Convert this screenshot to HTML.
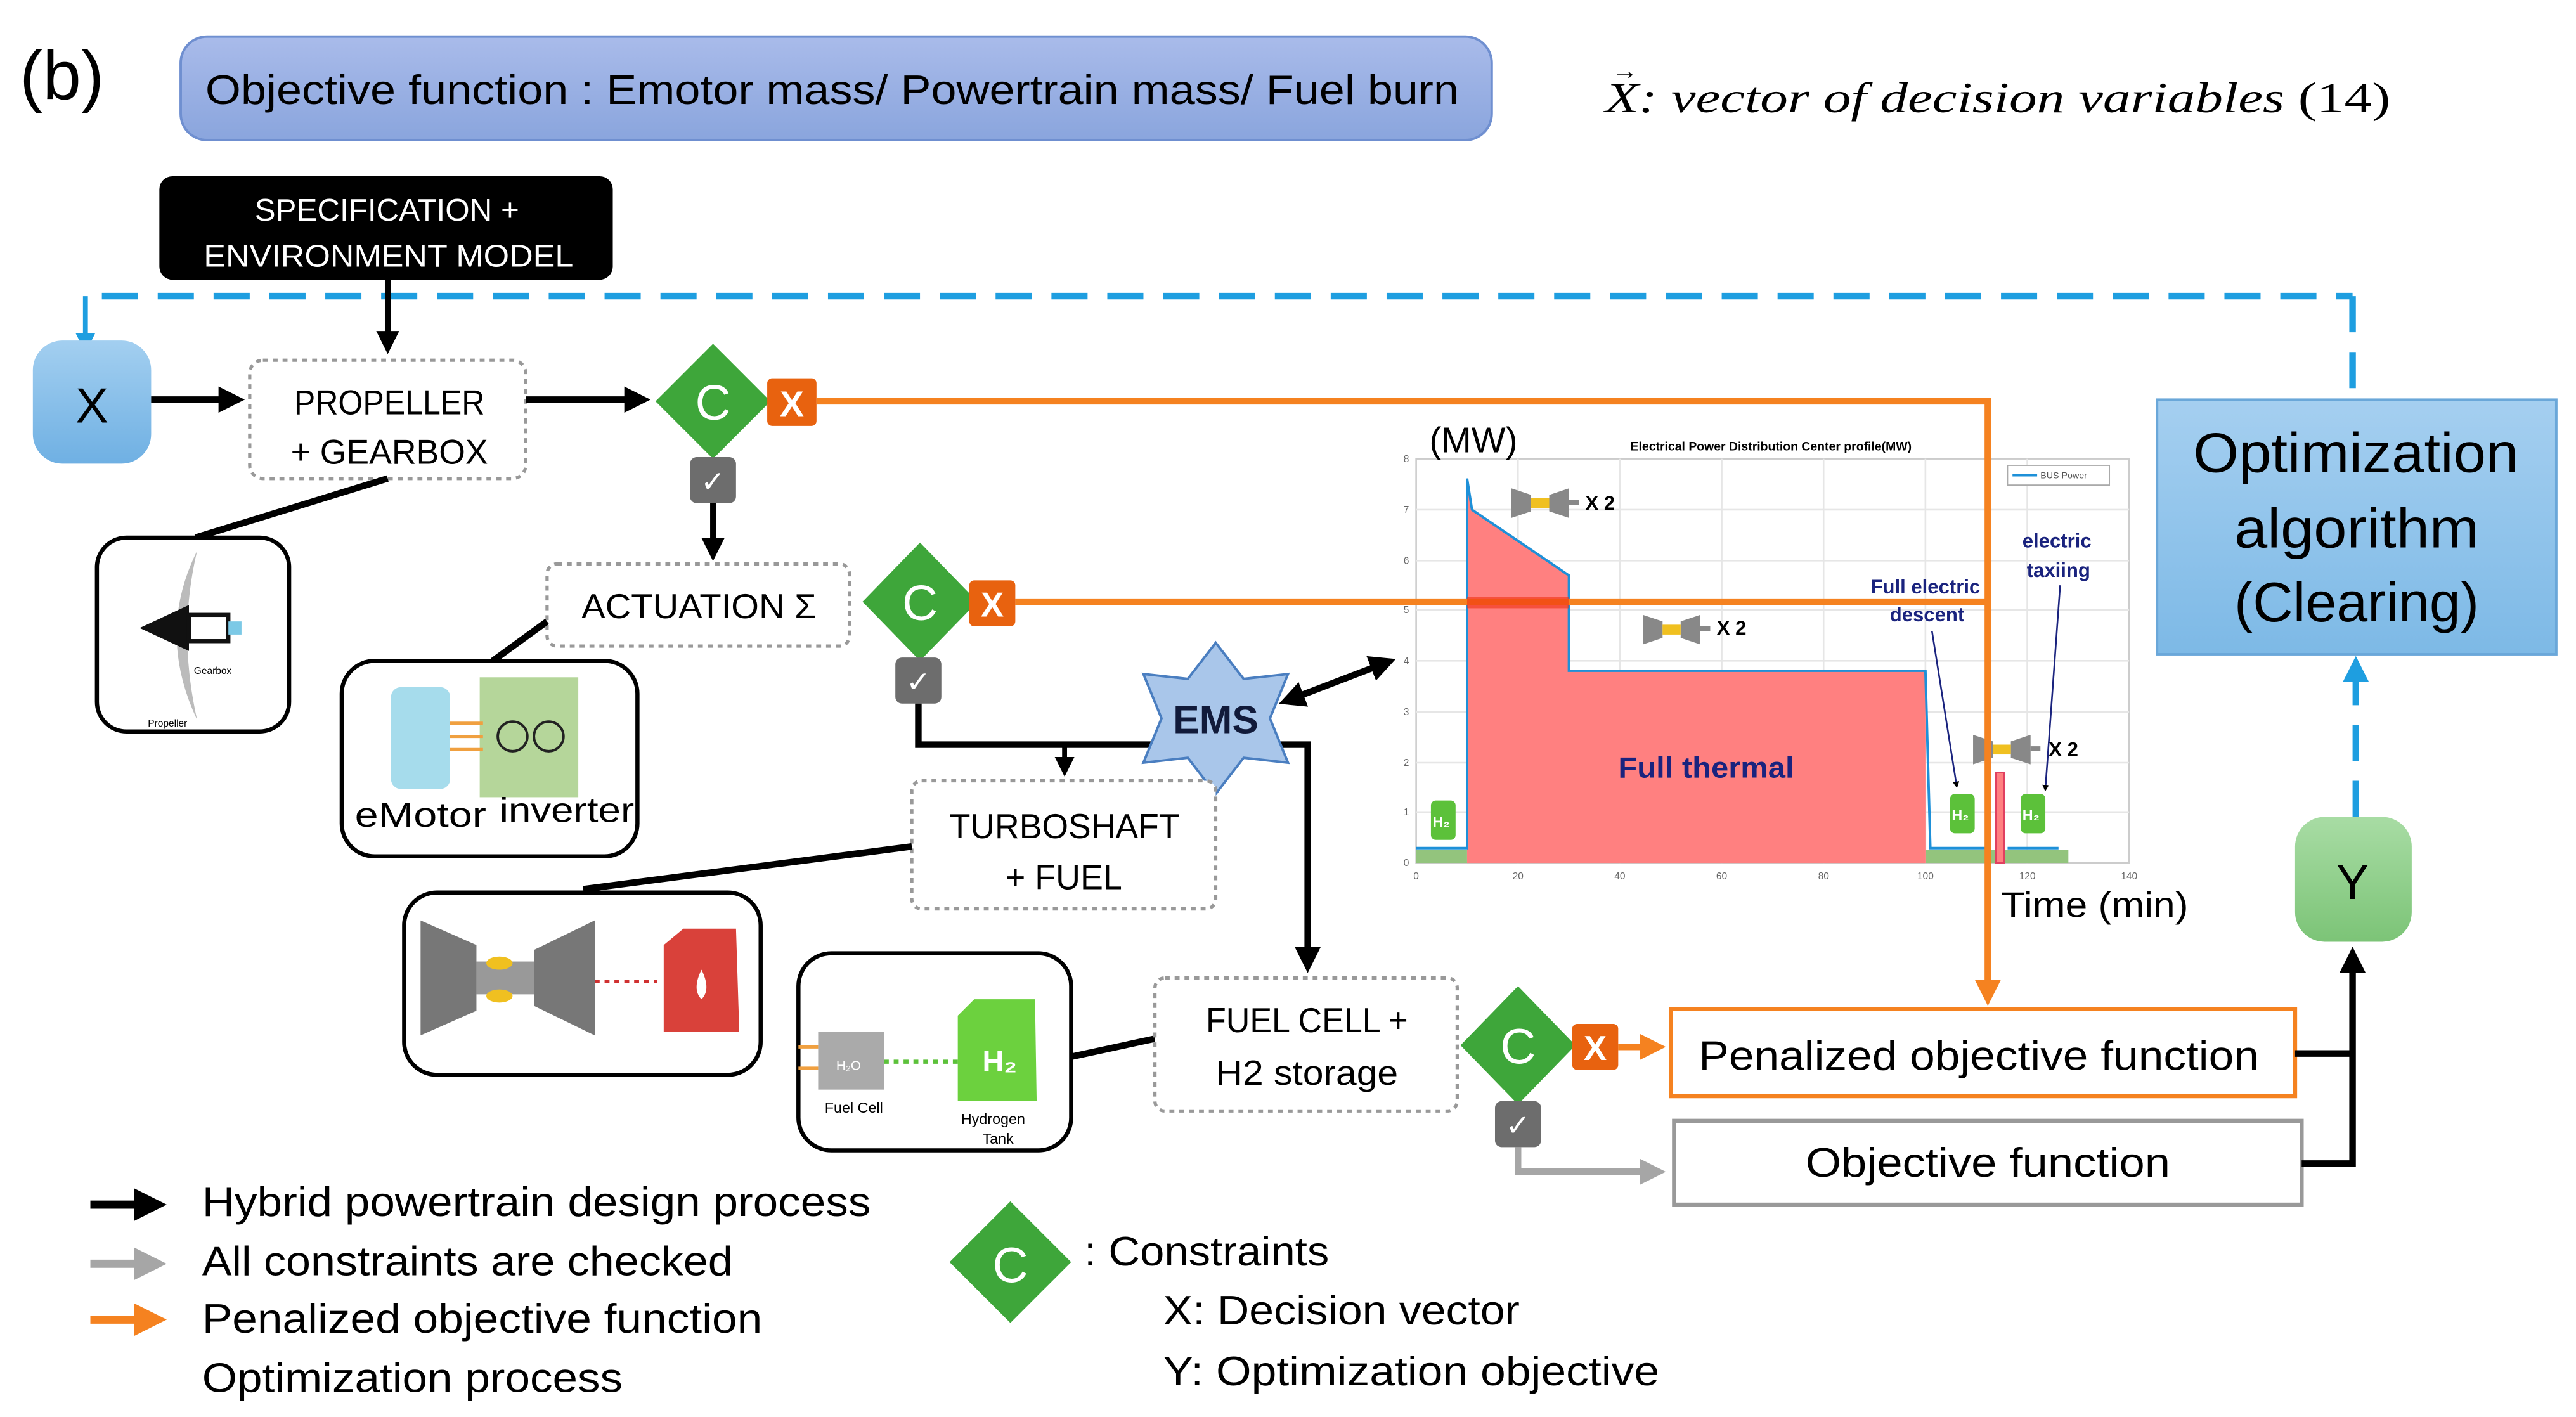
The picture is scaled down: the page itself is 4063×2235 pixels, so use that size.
<!DOCTYPE html>
<html><head><meta charset="utf-8"><style>html,body{margin:0;padding:0;background:#fff}svg{display:block}text{font-family:"Liberation Sans",sans-serif}</style></head>
<body>
<svg width="4063" height="2235" viewBox="0 0 1568 862" xmlns="http://www.w3.org/2000/svg">
<defs>
<marker id="ab" markerWidth="4" markerHeight="4" refX="2.5" refY="2" orient="auto"><path d="M0,0 L4,2 L0,4 z" fill="#000"/></marker>
<marker id="ao" markerWidth="4" markerHeight="4" refX="2.5" refY="2" orient="auto"><path d="M0,0 L4,2 L0,4 z" fill="#f58220"/></marker>
<marker id="ag" markerWidth="4" markerHeight="4" refX="2.5" refY="2" orient="auto"><path d="M0,0 L4,2 L0,4 z" fill="#a6a6a6"/></marker>
<marker id="abl" markerWidth="4" markerHeight="4" refX="2.5" refY="2" orient="auto"><path d="M0,0 L4,2 L0,4 z" fill="#1e9ee0"/></marker>
<marker id="abs" markerWidth="4" markerHeight="4" refX="2.5" refY="2" orient="auto-start-reverse"><path d="M0,0 L4,2 L0,4 z" fill="#000"/></marker>
<linearGradient id="gt" x1="0" y1="0" x2="0" y2="1"><stop offset="0" stop-color="#a9bbea"/><stop offset="1" stop-color="#8aa5dd"/></linearGradient>
<linearGradient id="gx" x1="0" y1="0" x2="0" y2="1"><stop offset="0" stop-color="#a3cff0"/><stop offset="1" stop-color="#6fb0e3"/></linearGradient>
<linearGradient id="gy" x1="0" y1="0" x2="0" y2="1"><stop offset="0" stop-color="#a8dca4"/><stop offset="1" stop-color="#7cc477"/></linearGradient>
<linearGradient id="go" x1="0" y1="0" x2="0" y2="1"><stop offset="0" stop-color="#a5cff0"/><stop offset="1" stop-color="#7db9e6"/></linearGradient>
</defs>

<text x="12" y="60" font-size="42">(b)</text>
<rect x="110" y="22" width="798" height="63" rx="16" fill="url(#gt)" stroke="#6f8fd0" stroke-width="1.5"/>
<text x="125" y="63" font-size="25" textLength="763" lengthAdjust="spacingAndGlyphs">Objective function :  Emotor mass/ Powertrain mass/ Fuel burn</text>
<text x="977" y="68" font-size="26" font-style="italic" style="font-family:'Liberation Serif',serif" textLength="478" lengthAdjust="spacingAndGlyphs">X: vector of decision variables <tspan font-style="normal">(14)</tspan></text>
<text x="981" y="48" font-size="16" style="font-family:'Liberation Serif',serif">→</text>

<!-- spec -->
<rect x="97" y="107" width="276" height="63" rx="8" fill="#000"/>
<text x="155" y="134" font-size="19" fill="#fff" textLength="161" lengthAdjust="spacingAndGlyphs">SPECIFICATION +</text>
<text x="124" y="162" font-size="19" fill="#fff" textLength="225" lengthAdjust="spacingAndGlyphs">ENVIRONMENT MODEL</text>

<!-- blue dashed loop -->
<line x1="62" y1="180" x2="1432" y2="180" stroke="#1e9ee0" stroke-width="4" stroke-dasharray="22 12"/>
<line x1="52" y1="180" x2="52" y2="210" stroke="#1e9ee0" stroke-width="3" marker-end="url(#abl)"/>
<line x1="1432" y1="180" x2="1432" y2="243" stroke="#1e9ee0" stroke-width="4" stroke-dasharray="22 12"/>
<line x1="1434" y1="497" x2="1434" y2="405" stroke="#1e9ee0" stroke-width="4" stroke-dasharray="22 12" marker-end="url(#abl)"/>

<!-- X -->
<rect x="20" y="207" width="72" height="75" rx="18" fill="url(#gx)"/>
<text x="56" y="257" font-size="30" text-anchor="middle">X</text>
<line x1="92" y1="243" x2="143" y2="243" stroke="#000" stroke-width="4" marker-end="url(#ab)"/>
<line x1="236" y1="170" x2="236" y2="210" stroke="#000" stroke-width="3.5" marker-end="url(#ab)"/>

<!-- propeller -->
<rect x="152" y="219" width="168" height="72" rx="8" fill="#fff" stroke="#999" stroke-width="2" stroke-dasharray="3 3"/>
<text x="179" y="252" font-size="21" textLength="116" lengthAdjust="spacingAndGlyphs">PROPELLER</text>
<text x="177" y="282" font-size="21" textLength="120" lengthAdjust="spacingAndGlyphs">+ GEARBOX</text>
<line x1="320" y1="243" x2="390" y2="243" stroke="#000" stroke-width="4" marker-end="url(#ab)"/>
<line x1="236" y1="291" x2="119" y2="327" stroke="#000" stroke-width="4"/>
<rect x="59" y="327" width="117" height="118" rx="18" fill="#fff" stroke="#000" stroke-width="2.5"/>
<path d="M120,335 Q95,385 120,438 Q108,385 120,335z" fill="#bbb"/>
<path d="M85,382 L115,368 L115,396z" fill="#111"/>
<rect x="115" y="374" width="24" height="16" fill="#fff" stroke="#111" stroke-width="2.5"/>
<rect x="139" y="378" width="8" height="8" fill="#7cc9e6"/>
<text x="118" y="410" font-size="6">Gearbox</text><text x="90" y="442" font-size="6">Propeller</text>

<!-- C1 -->
<path d="M434,209 L469,244 L434,279 L399,244z" fill="#3ea63a"/>
<text x="434" y="255" font-size="30" fill="#fff" text-anchor="middle">C</text>
<rect x="467" y="230" width="30" height="29" rx="3" fill="#e8620f"/>
<text x="482" y="253" font-size="22" font-weight="bold" fill="#fff" text-anchor="middle">X</text>
<rect x="420" y="278" width="28" height="28" rx="4" fill="#6d6d6d"/>
<text x="434" y="299" font-size="18" fill="#fff" text-anchor="middle">✓</text>
<line x1="434" y1="306" x2="434" y2="336" stroke="#000" stroke-width="3.5" marker-end="url(#ab)"/>

<!-- chart -->
<g>
<rect x="862" y="279" width="434" height="246" fill="#fff" stroke="#ccc"/>
<g stroke="#e6e6e6" stroke-width="1">
<line x1="924" y1="279" x2="924" y2="525"/><line x1="986" y1="279" x2="986" y2="525"/><line x1="1048" y1="279" x2="1048" y2="525"/><line x1="1110" y1="279" x2="1110" y2="525"/><line x1="1172" y1="279" x2="1172" y2="525"/><line x1="1234" y1="279" x2="1234" y2="525"/>
<line x1="862" y1="310" x2="1296" y2="310"/><line x1="862" y1="341" x2="1296" y2="341"/><line x1="862" y1="371" x2="1296" y2="371"/><line x1="862" y1="402" x2="1296" y2="402"/><line x1="862" y1="433" x2="1296" y2="433"/><line x1="862" y1="464" x2="1296" y2="464"/><line x1="862" y1="494" x2="1296" y2="494"/>
</g>
<rect x="862" y="517" width="31" height="8" fill="#93c47d"/>
<rect x="1172" y="517" width="87" height="8" fill="#93c47d"/>
<path d="M893,525 L893,291 L896,310 L955,350 L955,408 L1172,408 L1172,525z" fill="#ff8080"/>
<rect x="1215" y="470" width="5" height="55" fill="#ff8080" stroke="#e04060" stroke-width="1"/>
<path d="M862,516 L893,516 L893,291 L896,310 L955,350 L955,408 L1172,408 L1175,516 L1209,516 M1222,516 L1253,516" fill="none" stroke="#1e90d8" stroke-width="1.5"/>
<g font-size="6" fill="#666" text-anchor="middle">
<text x="862" y="535">0</text><text x="924" y="535">20</text><text x="986" y="535">40</text><text x="1048" y="535">60</text><text x="1110" y="535">80</text><text x="1172" y="535">100</text><text x="1234" y="535">120</text><text x="1296" y="535">140</text>
<text x="856" y="527">0</text><text x="856" y="496">1</text><text x="856" y="466">2</text><text x="856" y="435">3</text><text x="856" y="404">4</text><text x="856" y="373">5</text><text x="856" y="343">6</text><text x="856" y="312">7</text><text x="856" y="281">8</text>
</g>
<text x="870" y="275" font-size="22">(MW)</text>
<text x="1078" y="274" font-size="7.5" font-weight="bold" text-anchor="middle">Electrical Power Distribution Center profile(MW)</text>
<rect x="1222" y="283" width="62" height="12" fill="#fff" stroke="#aaa" stroke-width="0.7"/>
<line x1="1225" y1="289" x2="1240" y2="289" stroke="#1e90d8" stroke-width="1.5"/>
<text x="1242" y="291" font-size="5.5" fill="#555">BUS Power</text>
<text x="985" y="473" font-size="18" font-weight="bold" fill="#1a237e" textLength="107" lengthAdjust="spacingAndGlyphs">Full thermal</text>
<text x="1172" y="361" font-size="12" font-weight="bold" fill="#1a237e" text-anchor="middle">Full electric</text>
<text x="1173" y="378" font-size="12" font-weight="bold" fill="#1a237e" text-anchor="middle">descent</text>
<text x="1252" y="333" font-size="12" font-weight="bold" fill="#1a237e" text-anchor="middle">electric</text>
<text x="1253" y="351" font-size="12" font-weight="bold" fill="#1a237e" text-anchor="middle">taxiing</text>
<line x1="1176" y1="384" x2="1191" y2="478" stroke="#1a237e" stroke-width="1" marker-end="url(#ab)"/>
<line x1="1254" y1="356" x2="1245" y2="480" stroke="#1a237e" stroke-width="1" marker-end="url(#ab)"/>
<g fill="#888">
<path d="M920,297 L932,301 L932,311 L920,315z"/><path d="M955,297 L943,301 L943,311 L955,315z"/><rect x="932" y="303" width="11" height="6" fill="#f0c020"/><rect x="955" y="304" width="6" height="3"/>
<path d="M1000,374 L1012,378 L1012,388 L1000,392z"/><path d="M1035,374 L1023,378 L1023,388 L1035,392z"/><rect x="1012" y="380" width="11" height="6" fill="#f0c020"/><rect x="1035" y="381" width="6" height="3"/>
<path d="M1201,447 L1213,451 L1213,461 L1201,465z"/><path d="M1236,447 L1224,451 L1224,461 L1236,465z"/><rect x="1213" y="453" width="11" height="6" fill="#f0c020"/><rect x="1236" y="454" width="6" height="3"/>
</g>
<text x="965" y="310" font-size="12" font-weight="bold">X 2</text>
<text x="1045" y="386" font-size="12" font-weight="bold">X 2</text>
<text x="1247" y="460" font-size="12" font-weight="bold">X 2</text>
<g fill="#5cc13a">
<rect x="871" y="487" width="15" height="24" rx="3"/><rect x="1187" y="483" width="15" height="24" rx="3"/><rect x="1230" y="483" width="15" height="24" rx="3"/>
</g>
<g fill="#fff" font-size="9" font-weight="bold"><text x="872" y="503">H₂</text><text x="1188" y="499">H₂</text><text x="1231" y="499">H₂</text></g>
<text x="1218" y="558" font-size="22" textLength="114" lengthAdjust="spacingAndGlyphs">Time (min)</text>
</g>

<!-- orange lines -->
<line x1="497" y1="244" x2="1210" y2="244" stroke="#f58220" stroke-width="4"/>
<line x1="1210" y1="242" x2="1210" y2="606" stroke="#f58220" stroke-width="4" marker-end="url(#ao)"/>
<line x1="618" y1="366" x2="1210" y2="366" stroke="#f58220" stroke-width="4"/>
<rect x="893" y="363" width="62" height="7" fill="#f03010" opacity="0.6"/>

<!-- actuation -->
<rect x="333" y="343" width="184" height="50" rx="6" fill="#fff" stroke="#999" stroke-width="2" stroke-dasharray="3 3"/>
<text x="354" y="376" font-size="21" textLength="143" lengthAdjust="spacingAndGlyphs">ACTUATION Σ</text>
<line x1="333" y1="378" x2="300" y2="402" stroke="#000" stroke-width="4"/>
<rect x="208" y="402" width="180" height="119" rx="20" fill="#fff" stroke="#000" stroke-width="2.5"/>
<rect x="238" y="418" width="36" height="62" rx="6" fill="#a6dcec"/>
<rect x="292" y="412" width="60" height="73" fill="#b5d69a"/>
<line x1="274" y1="440" x2="294" y2="440" stroke="#f0a040" stroke-width="2"/><line x1="274" y1="448" x2="294" y2="448" stroke="#f0a040" stroke-width="2"/><line x1="274" y1="456" x2="294" y2="456" stroke="#f0a040" stroke-width="2"/>
<circle cx="312" cy="448" r="9" fill="none" stroke="#222" stroke-width="1.5"/><circle cx="334" cy="448" r="9" fill="none" stroke="#222" stroke-width="1.5"/>
<text x="216" y="503" font-size="21" textLength="80" lengthAdjust="spacingAndGlyphs">eMotor</text><text x="304" y="500" font-size="21" textLength="82" lengthAdjust="spacingAndGlyphs">inverter</text>

<!-- C2 -->
<path d="M560,330 L595,366 L560,402 L525,366z" fill="#3ea63a"/>
<text x="560" y="377" font-size="30" fill="#fff" text-anchor="middle">C</text>
<rect x="590" y="353" width="28" height="28" rx="3" fill="#e8620f"/>
<text x="604" y="375" font-size="21" font-weight="bold" fill="#fff" text-anchor="middle">X</text>
<rect x="545" y="400" width="28" height="28" rx="4" fill="#6d6d6d"/>
<text x="559" y="421" font-size="18" fill="#fff" text-anchor="middle">✓</text>
<path d="M559,428 L559,453 L796,453 L796,586" fill="none" stroke="#000" stroke-width="4" marker-end="url(#ab)"/>
<line x1="648" y1="453" x2="648" y2="468" stroke="#000" stroke-width="3" marker-end="url(#ab)"/>

<!-- EMS -->
<path d="M740,391 L757,413 L784,410 L773,437 L784,464 L757,461 L740,483 L723,461 L696,464 L707,437 L696,410 L723,413z" fill="#a9c6ea" stroke="#4a7ec0" stroke-width="1.5"/>
<text x="740" y="446" font-size="24" font-weight="bold" fill="#111a3a" text-anchor="middle">EMS</text>
<line x1="784" y1="426" x2="844" y2="403" stroke="#000" stroke-width="4" marker-start="url(#abs)" marker-end="url(#abs)"/>

<!-- turboshaft -->
<rect x="555" y="475" width="185" height="78" rx="6" fill="#fff" stroke="#999" stroke-width="2" stroke-dasharray="3 3"/>
<text x="578" y="510" font-size="21" textLength="140" lengthAdjust="spacingAndGlyphs">TURBOSHAFT</text>
<text x="612" y="541" font-size="21" textLength="71" lengthAdjust="spacingAndGlyphs">+ FUEL</text>
<line x1="555" y1="515" x2="355" y2="541" stroke="#000" stroke-width="4"/>
<rect x="246" y="543" width="217" height="111" rx="20" fill="#fff" stroke="#000" stroke-width="2.5"/>
<path d="M256,560 L290,575 L290,615 L256,630z" fill="#777"/><path d="M362,560 L325,578 L325,612 L362,630z" fill="#777"/>
<rect x="290" y="585" width="35" height="20" fill="#999"/>
<ellipse cx="304" cy="586" rx="8" ry="4" fill="#f0c020"/><ellipse cx="304" cy="606" rx="8" ry="4" fill="#f0c020"/>
<line x1="362" y1="597" x2="400" y2="597" stroke="#d03030" stroke-width="2" stroke-dasharray="3 3"/>
<path d="M404,575 L416,565 L448,565 L450,628 L404,628z" fill="#d9413a"/>
<path d="M427,590 Q433,602 427,608 Q421,602 427,590z" fill="#fff"/>

<!-- fuel cell -->
<rect x="486" y="580" width="166" height="120" rx="20" fill="#fff" stroke="#000" stroke-width="2.5"/>
<rect x="498" y="628" width="40" height="35" fill="#aaa"/>
<line x1="486" y1="637" x2="498" y2="637" stroke="#f0a040" stroke-width="2"/><line x1="486" y1="650" x2="498" y2="650" stroke="#f0a040" stroke-width="2"/>
<text x="509" y="651" font-size="8" fill="#fff">H₂O</text>
<line x1="538" y1="646" x2="583" y2="646" stroke="#5cc13a" stroke-width="2.5" stroke-dasharray="3 3"/>
<path d="M583,618 L593,608 L630,608 L631,670 L583,670z" fill="#6cd13e"/>
<text x="598" y="652" font-size="18" fill="#fff" font-weight="bold">H₂</text>
<text x="502" y="677" font-size="9">Fuel Cell</text>
<text x="585" y="684" font-size="9">Hydrogen</text><text x="598" y="696" font-size="9">Tank</text>
<line x1="652" y1="643" x2="703" y2="632" stroke="#000" stroke-width="4"/>
<rect x="703" y="595" width="184" height="81" rx="6" fill="#fff" stroke="#999" stroke-width="2" stroke-dasharray="3 3"/>
<text x="734" y="628" font-size="21" textLength="123" lengthAdjust="spacingAndGlyphs">FUEL CELL +</text>
<text x="740" y="660" font-size="21" textLength="111" lengthAdjust="spacingAndGlyphs">H2 storage</text>

<!-- C3 -->
<path d="M924,600 L959,636 L924,672 L889,636z" fill="#3ea63a"/>
<text x="924" y="647" font-size="30" fill="#fff" text-anchor="middle">C</text>
<rect x="957" y="623" width="28" height="28" rx="3" fill="#e8620f"/>
<text x="971" y="645" font-size="21" font-weight="bold" fill="#fff" text-anchor="middle">X</text>
<line x1="985" y1="637" x2="1008" y2="637" stroke="#f58220" stroke-width="4" marker-end="url(#ao)"/>
<rect x="910" y="670" width="28" height="28" rx="4" fill="#6d6d6d"/>
<text x="924" y="691" font-size="18" fill="#fff" text-anchor="middle">✓</text>
<path d="M924,698 L924,713 L1008,713" fill="none" stroke="#a6a6a6" stroke-width="4" marker-end="url(#ag)"/>

<rect x="1017" y="614" width="380" height="53" fill="#fff" stroke="#f58220" stroke-width="2.5"/>
<text x="1034" y="651" font-size="25" textLength="341" lengthAdjust="spacingAndGlyphs">Penalized  objective function</text>
<rect x="1019" y="682" width="382" height="51" fill="#fff" stroke="#999" stroke-width="2.5"/>
<text x="1099" y="716" font-size="25" textLength="222" lengthAdjust="spacingAndGlyphs">Objective function</text>
<path d="M1397,641 L1432,641 M1401,708 L1432,708 L1432,582" fill="none" stroke="#000" stroke-width="4" marker-end="url(#ab)"/>

<rect x="1397" y="497" width="71" height="76" rx="18" fill="url(#gy)"/>
<text x="1432" y="547" font-size="30" text-anchor="middle">Y</text>

<rect x="1313" y="243" width="243" height="155" fill="url(#go)" stroke="#6aa7d9" stroke-width="1.5"/>
<text x="1335" y="287" font-size="34" textLength="198" lengthAdjust="spacingAndGlyphs">Optimization</text>
<text x="1360" y="333" font-size="34" textLength="149" lengthAdjust="spacingAndGlyphs">algorithm</text>
<text x="1360" y="378" font-size="34" textLength="149" lengthAdjust="spacingAndGlyphs">(Clearing)</text>

<!-- legend -->
<line x1="55" y1="733" x2="94" y2="733" stroke="#000" stroke-width="5" marker-end="url(#ab)"/>
<line x1="55" y1="769" x2="94" y2="769" stroke="#a6a6a6" stroke-width="5" marker-end="url(#ag)"/>
<line x1="55" y1="803" x2="94" y2="803" stroke="#f58220" stroke-width="5" marker-end="url(#ao)"/>
<g font-size="25"><text x="123" y="740" textLength="407" lengthAdjust="spacingAndGlyphs">Hybrid powertrain design process</text><text x="123" y="776" textLength="323" lengthAdjust="spacingAndGlyphs">All constraints are checked</text><text x="123" y="811" textLength="341" lengthAdjust="spacingAndGlyphs">Penalized  objective function</text><text x="123" y="847" textLength="256" lengthAdjust="spacingAndGlyphs">Optimization process</text></g>
<path d="M615,731 L652,768 L615,805 L578,768z" fill="#3ea63a"/>
<text x="615" y="780" font-size="30" fill="#fff" text-anchor="middle">C</text>
<g font-size="25"><text x="660" y="770" textLength="149" lengthAdjust="spacingAndGlyphs">: Constraints</text><text x="708" y="806" textLength="217" lengthAdjust="spacingAndGlyphs">X: Decision vector</text><text x="708" y="843" textLength="302" lengthAdjust="spacingAndGlyphs">Y: Optimization objective</text></g>
</svg>
</body></html>
